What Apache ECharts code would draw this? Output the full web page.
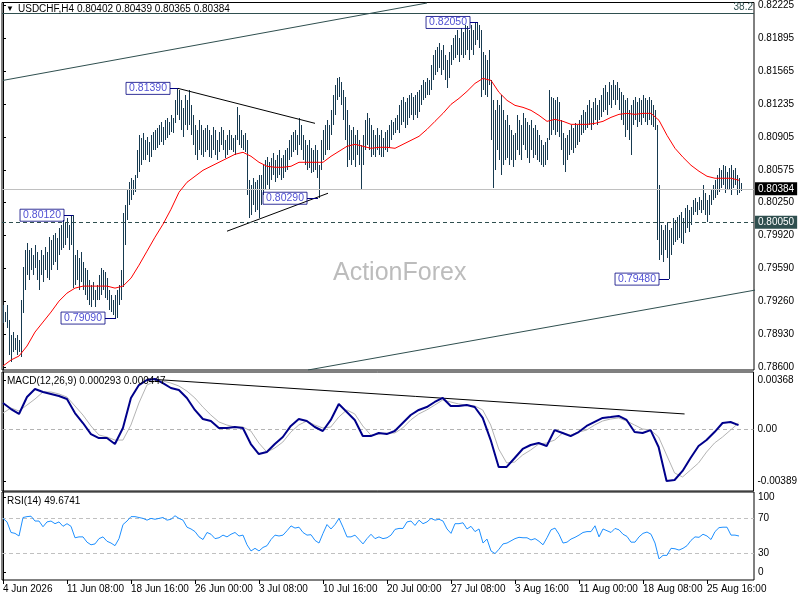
<!DOCTYPE html>
<html><head><meta charset="utf-8">
<script src="https://cdn.jsdelivr.net/npm/echarts@6/dist/echarts.min.js"></script>
<style>html,body{margin:0;padding:0;background:#fff}#c{width:800px;height:600px}</style>
</head><body><div id="c"></div>
<script>
const FONT = "'Liberation Sans',Arial,sans-serif";
// x-axis time labels and the bar index where each sits
const timeLabels = ['4 Jun 2026','11 Jun 08:00','18 Jun 16:00','26 Jun 00:00','3 Jul 08:00','10 Jul 16:00','20 Jul 00:00','27 Jul 08:00','3 Aug 16:00','11 Aug 00:00','18 Aug 08:00','25 Aug 16:00'];
const timeLabelBars = [0,32,64,96,128,160,192,224,256,288,320,352];

// H4 bar highs / lows (USDCHF)
const highs = [
0.7922,0.7915,0.7922,0.7907,0.7892,0.7895,0.7889,0.7892,0.7887,0.7927,
0.7960,0.7977,0.7984,0.7977,0.7979,0.7972,0.7982,0.7975,0.7967,0.7977,
0.7972,0.7980,0.7975,0.7990,0.7987,0.7992,0.7994,0.7989,0.7999,0.8002,
0.8007,0.8005,0.8009,0.8002,0.8012,0.8012,0.7972,0.7977,0.7969,0.7975,
0.7965,0.7959,0.7957,0.7947,0.7942,0.7945,0.7937,0.7942,0.7952,0.7959,
0.7957,0.7955,0.7949,0.7937,0.7932,0.7927,0.7932,0.7937,0.7942,0.7957,
0.8014,0.8022,0.8037,0.8045,0.8049,0.8047,0.8052,0.8077,0.8092,0.8089,
0.8094,0.8087,0.8090,0.8085,0.8092,0.8095,0.8097,0.8099,0.8102,0.8105,
0.8100,0.8107,0.8109,0.8105,0.8112,0.8109,0.8127,0.8139,0.8137,0.8127,
0.8119,0.8132,0.8127,0.8137,0.8122,0.8112,0.8102,0.8097,0.8107,0.8102,
0.8097,0.8099,0.8102,0.8097,0.8092,0.8100,0.8097,0.8087,0.8095,0.8100,
0.8097,0.8087,0.8092,0.8097,0.8092,0.8089,0.8092,0.8120,0.8112,0.8097,
0.8092,0.8094,0.8087,0.8047,0.8042,0.8049,0.8045,0.8047,0.8052,0.8052,
0.8062,0.8067,0.8070,0.8065,0.8069,0.8074,0.8067,0.8072,0.8077,0.8069,
0.8072,0.8077,0.8079,0.8087,0.8092,0.8095,0.8097,0.8092,0.8109,0.8102,
0.8092,0.8087,0.8082,0.8087,0.8079,0.8077,0.8082,0.8077,0.8062,0.8087,
0.8097,0.8102,0.8107,0.8102,0.8117,0.8132,0.8142,0.8149,0.8150,0.8145,
0.8137,0.8130,0.8117,0.8102,0.8097,0.8100,0.8092,0.8097,0.8087,0.8082,
0.8092,0.8107,0.8114,0.8109,0.8102,0.8097,0.8092,0.8099,0.8092,0.8097,
0.8089,0.8095,0.8097,0.8102,0.8107,0.8105,0.8109,0.8112,0.8122,0.8127,
0.8130,0.8125,0.8129,0.8132,0.8134,0.8130,0.8132,0.8135,0.8137,0.8142,
0.8147,0.8145,0.8149,0.8147,0.8162,0.8172,0.8177,0.8180,0.8184,0.8177,
0.8182,0.8172,0.8167,0.8175,0.8182,0.8189,0.8192,0.8197,0.8189,0.8199,
0.8195,0.8202,0.8201,0.8197,0.8202,0.8197,0.8205,0.8205,0.8202,0.8197,
0.8175,0.8172,0.8167,0.8177,0.8147,0.8127,0.8117,0.8127,0.8122,0.8132,
0.8117,0.8107,0.8112,0.8102,0.8097,0.8092,0.8094,0.8112,0.8107,0.8102,
0.8114,0.8109,0.8105,0.8102,0.8107,0.8099,0.8102,0.8097,0.8092,0.8087,
0.8082,0.8085,0.8089,0.8137,0.8130,0.8129,0.8127,0.8130,0.8125,0.8107,
0.8094,0.8089,0.8092,0.8097,0.8102,0.8099,0.8104,0.8102,0.8107,0.8112,
0.8117,0.8115,0.8122,0.8127,0.8119,0.8125,0.8129,0.8122,0.8127,0.8132,
0.8139,0.8142,0.8135,0.8145,0.8142,0.8147,0.8142,0.8145,0.8139,0.8135,
0.8132,0.8127,0.8129,0.8117,0.8122,0.8127,0.8130,0.8125,0.8129,0.8127,
0.8132,0.8129,0.8127,0.8130,0.8127,0.8122,0.8117,0.8102,0.8042,0.8002,
0.7997,0.8002,0.8005,0.7997,0.7999,0.8009,0.8007,0.8010,0.8012,0.8015,
0.8009,0.8019,0.8022,0.8017,0.8020,0.8027,0.8029,0.8025,0.8030,0.8027,
0.8042,0.8034,0.8027,0.8032,0.8037,0.8042,0.8047,0.8052,0.8059,0.8057,
0.8062,0.8061,0.8055,0.8059,0.8062,0.8057,0.8059,0.8052,0.8049,0.80439];
const lows = [
0.7904,0.7905,0.7899,0.7872,0.7865,0.7875,0.7877,0.7872,0.7875,0.7870,
0.7914,0.7937,0.7952,0.7947,0.7957,0.7952,0.7959,0.7947,0.7937,0.7952,
0.7945,0.7957,0.7949,0.7947,0.7957,0.7962,0.7965,0.7957,0.7972,0.7977,
0.7979,0.7982,0.7989,0.7977,0.7982,0.7939,0.7942,0.7947,0.7937,0.7945,
0.7937,0.7932,0.7927,0.7922,0.7920,0.7927,0.7920,0.7927,0.7927,0.7932,
0.7937,0.7929,0.7927,0.7917,0.7915,0.7912,0.7909,0.7909,0.7922,0.7927,
0.7940,0.7982,0.8007,0.8022,0.8027,0.8032,0.8035,0.8049,0.8055,0.8062,
0.8067,0.8067,0.8072,0.8065,0.8070,0.8077,0.8077,0.8079,0.8082,0.8085,
0.8082,0.8087,0.8089,0.8092,0.8095,0.8094,0.8104,0.8112,0.8107,0.8097,
0.8090,0.8102,0.8097,0.8102,0.8092,0.8082,0.8072,0.8067,0.8077,0.8072,
0.8070,0.8075,0.8077,0.8070,0.8069,0.8077,0.8072,0.8067,0.8075,0.8082,
0.8077,0.8069,0.8072,0.8077,0.8077,0.8075,0.8072,0.8087,0.8082,0.8079,
0.8077,0.8075,0.8032,0.8009,0.8012,0.8022,0.8015,0.8017,0.8009,0.8022,
0.8032,0.8037,0.8042,0.8037,0.8047,0.8052,0.8045,0.8049,0.8052,0.8047,
0.8049,0.8055,0.8057,0.8067,0.8070,0.8075,0.8077,0.8072,0.8082,0.8077,
0.8067,0.8062,0.8057,0.8059,0.8054,0.8055,0.8057,0.8049,0.8029,0.8057,
0.8067,0.8072,0.8077,0.8077,0.8092,0.8102,0.8112,0.8127,0.8130,0.8122,
0.8107,0.8087,0.8060,0.8067,0.8062,0.8067,0.8060,0.8072,0.8062,0.8037,
0.8062,0.8077,0.8082,0.8077,0.8070,0.8072,0.8070,0.8077,0.8072,0.8070,
0.8070,0.8077,0.8075,0.8079,0.8087,0.8092,0.8094,0.8097,0.8094,0.8102,
0.8105,0.8099,0.8102,0.8109,0.8112,0.8107,0.8112,0.8109,0.8115,0.8122,
0.8127,0.8129,0.8132,0.8132,0.8137,0.8147,0.8152,0.8155,0.8159,0.8152,
0.8157,0.8147,0.8139,0.8149,0.8162,0.8167,0.8169,0.8172,0.8165,0.8172,
0.8169,0.8172,0.8177,0.8167,0.8177,0.8172,0.8182,0.8187,0.8179,0.8130,
0.8137,0.8132,0.8130,0.8142,0.8087,0.8039,0.8057,0.8077,0.8067,0.8052,
0.8062,0.8067,0.8069,0.8062,0.8067,0.8060,0.8067,0.8077,0.8072,0.8067,
0.8082,0.8077,0.8069,0.8064,0.8077,0.8069,0.8072,0.8067,0.8065,0.8062,
0.8060,0.8062,0.8067,0.8087,0.8092,0.8097,0.8092,0.8095,0.8090,0.8077,
0.8062,0.8055,0.8067,0.8072,0.8077,0.8074,0.8079,0.8082,0.8085,0.8092,
0.8094,0.8097,0.8099,0.8102,0.8097,0.8102,0.8107,0.8102,0.8107,0.8110,
0.8115,0.8117,0.8112,0.8122,0.8119,0.8127,0.8122,0.8127,0.8117,0.8107,
0.8102,0.8090,0.8097,0.8087,0.8072,0.8102,0.8107,0.8100,0.8105,0.8102,
0.8109,0.8105,0.8102,0.8107,0.8102,0.8100,0.8097,0.7987,0.7967,0.7972,
0.7965,0.7977,0.7969,0.7948,0.7972,0.7982,0.7985,0.7987,0.7989,0.7984,
0.7983,0.7994,0.7999,0.7995,0.8002,0.8012,0.8015,0.8012,0.8017,0.8014,
0.8017,0.8012,0.8005,0.8012,0.8022,0.8027,0.8029,0.8032,0.8035,0.8039,
0.8042,0.8034,0.8037,0.8037,0.8032,0.8039,0.8042,0.8032,0.8034,0.80365];

// moving average (red), one reading every 4 bars
const maStep = 4;
const maValues = [
0.7861,0.7867,0.7871,0.7881,0.7895,0.7905,0.7915,0.7926,0.7934,0.7939,
0.7941,0.7941,0.7941,0.7941,0.7939,0.7941,0.7949,0.7962,0.7976,0.7990,
0.8003,0.8018,0.8035,0.8045,0.8051,0.8057,0.8061,0.8065,0.8069,0.8073,
0.8075,0.8071,0.8065,0.8061,0.8060,0.8060,0.8061,0.8065,0.8065,0.8065,
0.8065,0.8071,0.8076,0.8081,0.8083,0.8081,0.8079,0.8080,0.8080,0.8079,
0.8083,0.8087,0.8091,0.8098,0.8106,0.8114,0.8123,0.8129,0.8136,0.8144,
0.8149,0.8147,0.8135,0.8127,0.8122,0.8120,0.8117,0.8112,0.8106,0.8108,
0.8106,0.8103,0.8103,0.8103,0.8104,0.8106,0.8110,0.8113,0.8114,0.8113,
0.8114,0.8114,0.8107,0.8092,0.8079,0.8070,0.8062,0.8056,0.8051,0.8049,
0.8049,0.8049,0.8047];

// MACD(12,26,9) main and signal, one reading every 4 bars
const macdStep = 4;
const macdValues = [
0.00195,0.00150,0.00113,0.00240,0.00300,0.00278,0.00263,0.00248,0.00225,0.00120,
0.00045,-0.00038,-0.00068,-0.00068,-0.00113,0.00008,0.00233,0.00330,0.00368,0.00376,
0.00345,0.00308,0.00293,0.00233,0.00143,0.00075,0.00060,0.00008,0.00008,0.00015,
0.00008,-0.00113,-0.00188,-0.00173,-0.00113,-0.00060,0.00023,0.00075,0.00060,0.00015,
-0.00015,0.00068,0.00188,0.00128,0.00068,-0.00053,-0.00053,-0.00030,-0.00038,-0.00015,
0.00045,0.00105,0.00143,0.00165,0.00203,0.00233,0.00173,0.00173,0.00180,0.00165,
0.00083,-0.00083,-0.00285,-0.00285,-0.00218,-0.00150,-0.00120,-0.00105,-0.00128,-0.00008,
-0.00030,-0.00053,-0.00023,0.00023,0.00053,0.00083,0.00090,0.00098,0.00068,-0.00023,
-0.00030,-0.00008,-0.00135,-0.00391,-0.00383,-0.00315,-0.00218,-0.00128,-0.00083,-0.00023,
0.00045,0.00053,0.000293];
const signalValues = [
0.00120,0.00158,0.00135,0.00180,0.00225,0.00278,0.00278,0.00263,0.00240,0.00173,
0.00105,0.00023,-0.00045,-0.00060,-0.00083,-0.00083,0.00030,0.00195,0.00330,0.00360,
0.00360,0.00345,0.00323,0.00285,0.00233,0.00165,0.00105,0.00053,0.00030,0.00015,
0.00015,-0.00015,-0.00105,-0.00173,-0.00143,-0.00098,-0.00023,0.00030,0.00060,0.00030,
0.00008,0.00015,0.00090,0.00143,0.00113,0.00023,-0.00045,-0.00038,-0.00030,-0.00030,
0.00008,0.00068,0.00113,0.00143,0.00180,0.00218,0.00203,0.00188,0.00180,0.00173,
0.00143,0.00030,-0.00150,-0.00255,-0.00248,-0.00195,-0.00158,-0.00113,-0.00105,-0.00083,
-0.00030,-0.00045,-0.00023,-0.00008,0.00030,0.00060,0.00075,0.00083,0.00060,0.00030,
0.00000,-0.00008,-0.00060,-0.00195,-0.00330,-0.00360,-0.00308,-0.00255,-0.00173,-0.00105,
-0.00060,-0.00008,0.000447];

// RSI(14), one reading every 2 bars
const rsiStep = 2;
const rsiValues = [
70,66,54,53,50,71,72,72.5,67,67,
60.5,66,67,64,66,61,64,61,48,49,
49,43,40,41,47,49,44,42,39,47,
63,67,72,72,71,70,68,70,69,70,
71,68,69,73,70,68,60,58,55,49,
46,54,52,47,48,51,49,52,54,50,
51,40,33,36,33,37,39,46,51,50,
51,56,61.5,59,60,54,51,51.5,45,42,
53,63,58,63,70,60,49,49,51,46,
41,47,52,47,49,47,48,51,57.5,58.6,
58.6,66,67,62,68,64,66,70,68,69,
67,58,53,64,64,65,58,61,55,58,
42,46.5,33,30,35,41,42,44.5,47,48.5,
48,48,45.5,47,44,40,48,57,59,52,
42,43,46.5,48.5,51,54,55,55,61.6,49,
58,56,54,58.6,57,52,49.5,43,43,49,
53,54.5,52,42,24,28,28,36,35.5,34,
36,39,45,49,48.5,52,50,46,55,59.5,
60,60,51,51,50];

// axis tick labels
const priceTickValues = [0.78600,0.78930,0.79260,0.79590,0.79920,0.80250,0.80575,0.80905,0.81235,0.81565,0.81895,0.82225];
const priceTickLabels = ['0.78600','0.78930','0.79260','0.79590','0.79920','0.80250','0.80575','0.80905','0.81235','0.81565','0.81895','0.82225'];
const macdTickValues = [0.00368,0,-0.00389];
const macdTickLabels = ['0.00368','0.00','-0.00389'];
const rsiTickLabels = ['100','70','30','0'];
const rsiLevels = [70,30];

// levels and annotations
const lastPrice = 0.80384;
const supportLevel = 0.80050;
const fibLevel = 0.82145;
const swingLabels = [
  {text:'0.82050', price:0.82050, from:233.5, to:237.5},
  {text:'0.81390', price:0.81390, from:83.5, to:87.5},
  {text:'0.80120', price:0.80120, from:30.5, to:35},
  {text:'0.80290', price:0.80290, from:152, to:157.5},
  {text:'0.79090', price:0.79090, from:51, to:56.5},
  {text:'0.79480', price:0.79480, from:328, to:333}
];
const channelUpper = [[0,0.8147],[212,0.82245]];
const channelLower = [[152.5,0.7857],[376,0.7937]];
const triangleTop = [[87.5,0.8139],[156,0.8104]];
const triangleBottom = [[112,0.7996],[162.5,0.8034]];
const macdTrend = [[72,0.00376],[341,0.00113]];

const chart = echarts.init(document.getElementById('c'), null, {renderer:'canvas'});
const barData = highs.map((h,i)=>[i, lows[i], h]);
const stepData = (arr, step) => arr.map((v,k)=>[k*step, v]);
const xBase = {type:'value', min:-0.5, max:375.5, axisLine:{show:false}, axisTick:{show:false}, axisLabel:{show:false}, splitLine:{show:false}};
const txt = {fontFamily:FONT, fontSize:10, color:'#000'};
const rsiLabelPos = [93.5,70,30,8.5];

const trend = (pts, color, xi, yi) => ({type:'line', xAxisIndex:xi, yAxisIndex:yi, data:pts, symbol:'none', silent:true,
  lineStyle:{color:color, width:1}, z:4, animation:false});

chart.setOption({
  animation:false,
  backgroundColor:'#fff',
  grid:[
    {left:2, right:46, top:2, height:368, show:true, borderColor:'#000', borderWidth:1},
    {left:2, right:46, top:372, height:119, show:true, borderColor:'#000', borderWidth:1},
    {left:2, right:46, top:492, height:88, show:true, borderColor:'#000', borderWidth:1}
  ],
  xAxis:[
    Object.assign({gridIndex:0}, xBase),
    Object.assign({gridIndex:1}, xBase),
    Object.assign({}, xBase, {gridIndex:2,
      axisTick:{show:true, customValues:timeLabelBars, length:4, lineStyle:{color:'#000'}},
      axisLabel:Object.assign({show:true, customValues:timeLabelBars, align:'left', margin:4,
        formatter:(v)=>timeLabels[timeLabelBars.indexOf(Math.round(v))] || ''}, txt)})
  ],
  yAxis:[
    {gridIndex:0, type:'value', position:'right', min:0.7857, max:0.8225, scale:true,
      axisLine:{show:true, lineStyle:{color:'#000'}},
      axisTick:{show:true, customValues:priceTickValues, length:3, lineStyle:{color:'#000'}},
      axisLabel:Object.assign({customValues:priceTickValues, margin:4,
        formatter:(v)=>{const k=priceTickValues.findIndex(t=>Math.abs(t-v)<1e-7); return k>=0?priceTickLabels[k]:'';}}, txt),
      splitLine:{show:false}},
    {gridIndex:1, type:'value', position:'right', min:-0.004656, max:0.004281,
      axisLine:{show:true, lineStyle:{color:'#000'}},
      axisTick:{show:true, customValues:macdTickValues, length:3, lineStyle:{color:'#000'}},
      axisLabel:Object.assign({customValues:macdTickValues, margin:4,
        formatter:(v)=>{const k=macdTickValues.findIndex(t=>Math.abs(t-v)<1e-9); return k>=0?macdTickLabels[k]:'';}}, txt),
      splitLine:{show:false}},
    {gridIndex:2, type:'value', position:'right', min:0, max:100,
      axisLine:{show:true, lineStyle:{color:'#000'}},
      axisTick:{show:true, customValues:rsiLabelPos, length:3, lineStyle:{color:'#000'}},
      axisLabel:Object.assign({customValues:rsiLabelPos, margin:4,
        formatter:(v)=>{const k=rsiLabelPos.findIndex(t=>Math.abs(t-v)<1e-6); return k>=0?rsiTickLabels[k]:'';}}, txt),
      splitLine:{show:false}}
  ],
  graphic:[
    {type:'text', left:6, top:5, z:10, style:{text:'▼', font:'8px '+FONT, fill:'#000'}},
    {type:'text', left:18, top:4, z:10, style:{text:'USDCHF,H4 0.80402 0.80439 0.80365 0.80384', font:'10px '+FONT, fill:'#000'}},
    {type:'text', left:7, top:376, z:10, style:{text:'MACD(12,26,9) 0.000293 0.000447', font:'10px '+FONT, fill:'#000'}},
    {type:'text', left:7, top:496, z:10, style:{text:'RSI(14) 49.6741', font:'10px '+FONT, fill:'#000'}},
    {type:'text', left:333, top:261, z:1, style:{text:'ActionForex', font:"25px 'Liberation Sans',Arial,sans-serif", fill:'#bcbcbc'}}
  ],
  series:[
    {type:'custom', name:'USDCHF', xAxisIndex:0, yAxisIndex:0, data:barData, z:3, silent:true,
      encode:{x:0, y:[1,2]},
      renderItem:(params, api)=>{
        const i = api.value(0);
        const lo = api.coord([i, api.value(1)]);
        const hi = api.coord([i, api.value(2)]);
        const x = Math.round(lo[0]) + 0.5;
        return {type:'line', shape:{x1:x, y1:Math.round(lo[1]), x2:x, y2:Math.round(hi[1])},
          style:{stroke:'#173a50', lineWidth:1}};
      }},
    {type:'line', name:'MA', xAxisIndex:0, yAxisIndex:0, data:stepData(maValues, maStep), symbol:'none', silent:true,
      lineStyle:{color:'#ff0000', width:1}, z:5,
      markLine:{symbol:['none','none'], silent:true, animation:false, precision:5, data:[
        {yAxis:lastPrice, lineStyle:{color:'#c0c0c0', type:'solid', width:1},
          label:{show:true, position:'end', distance:1, formatter:'0.80384', backgroundColor:'#000', color:'#fff',
            padding:[2,3,1,3], fontFamily:FONT, fontSize:10}},
        {yAxis:supportLevel, lineStyle:{color:'#2f4f4f', type:[4,3], width:1},
          label:{show:true, position:'end', distance:1, formatter:'0.80050', backgroundColor:'#2f4f4f', color:'#fff',
            padding:[2,3,1,3], fontFamily:FONT, fontSize:10}},
        {yAxis:fibLevel, lineStyle:{color:'#2f4f4f', type:'solid', width:1},
          label:{show:true, position:'insideEndTop', distance:1, formatter:'38.2', color:'#2f4f4f',
            fontFamily:FONT, fontSize:10}}
      ]}},
    trend(channelUpper, '#2f4f4f', 0, 0),
    trend(channelLower, '#2f4f4f', 0, 0),
    trend(triangleTop, '#000', 0, 0),
    trend(triangleBottom, '#000', 0, 0),
    {type:'lines', coordinateSystem:'cartesian2d', xAxisIndex:0, yAxisIndex:0, silent:true, z:6,
      lineStyle:{color:'#000080', width:1, opacity:1},
      data:swingLabels.map(s=>({coords:[[s.from, s.price],[s.to, s.price]]}))},
    {type:'scatter', xAxisIndex:0, yAxisIndex:0, symbolSize:0, silent:true, z:7,
      data:swingLabels.map(s=>({value:[s.from, s.price], label:{formatter:s.text}})),
      label:{show:true, position:'left', distance:0, color:'#2323c8', borderColor:'#000080', borderWidth:1,
        padding:[1,3,0,3], fontFamily:FONT, fontSize:10.5}},
    {type:'line', name:'MACD', xAxisIndex:1, yAxisIndex:1, data:stepData(macdValues, macdStep), symbol:'none', silent:true,
      lineStyle:{color:'#00008b', width:2}, z:5,
      markLine:{symbol:['none','none'], silent:true, animation:false, precision:6, label:{show:false},
        data:[{yAxis:0, lineStyle:{color:'#b4b4b4', type:[4,3], width:1}}]}},
    {type:'line', name:'Signal', xAxisIndex:1, yAxisIndex:1, data:stepData(signalValues, macdStep), symbol:'none', silent:true,
      lineStyle:{color:'#b4b4b4', width:1}, z:4},
    trend(macdTrend, '#000', 1, 1),
    {type:'line', name:'RSI', xAxisIndex:2, yAxisIndex:2, data:stepData(rsiValues, rsiStep), symbol:'none', silent:true,
      lineStyle:{color:'#1e90ff', width:1}, z:5,
      markLine:{symbol:['none','none'], silent:true, animation:false, precision:2, label:{show:false},
        data:rsiLevels.map(l=>({yAxis:l, lineStyle:{color:'#c0c0c0', type:[4,3], width:1}}))}}
  ]
});
</script></body></html>
